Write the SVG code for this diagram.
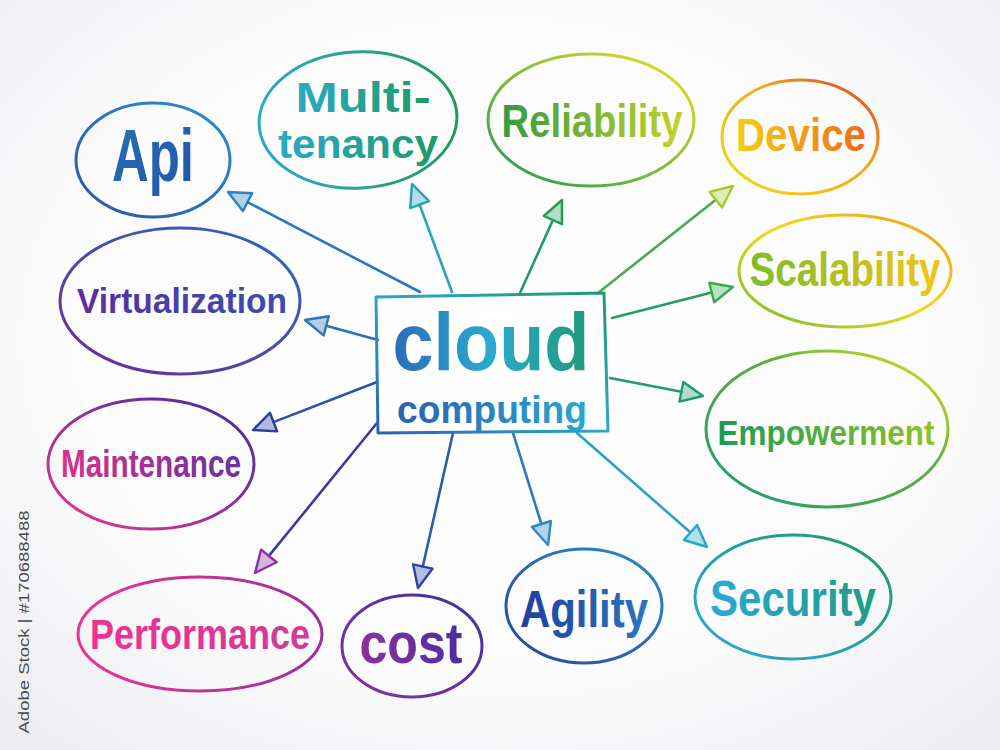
<svg xmlns="http://www.w3.org/2000/svg" width="1000" height="750" viewBox="0 0 1000 750">
<defs>
<radialGradient id="bg" cx="0.5" cy="0.45" r="0.75">
<stop offset="0" stop-color="#ffffff"/><stop offset="0.6" stop-color="#fbfbfc"/><stop offset="1" stop-color="#ececf0"/>
</radialGradient>
<linearGradient id="gBox" x1="0" y1="1" x2="1" y2="0"><stop offset="0" stop-color="#2b63b3"/><stop offset="0.5" stop-color="#2aa6cc"/><stop offset="1" stop-color="#1f9a74"/></linearGradient>
<linearGradient id="gCloud" x1="0" y1="0.5" x2="1" y2="0.5"><stop offset="0" stop-color="#2c6db8"/><stop offset="0.5" stop-color="#2aaad0"/><stop offset="1" stop-color="#1f9a78"/></linearGradient>
<linearGradient id="gComp" x1="0" y1="0.5" x2="1" y2="0.5"><stop offset="0" stop-color="#2a62b2"/><stop offset="1" stop-color="#2aa6cf"/></linearGradient>
<linearGradient id="gApi" x1="0" y1="1" x2="1" y2="0"><stop offset="0" stop-color="#2a55a8"/><stop offset="1" stop-color="#2a90cc"/></linearGradient>
<linearGradient id="tApi" x1="0" y1="0" x2="1" y2="1"><stop offset="0" stop-color="#2a70b8"/><stop offset="1" stop-color="#2055a6"/></linearGradient>
<linearGradient id="gMul" x1="0" y1="0.5" x2="1" y2="0.5"><stop offset="0" stop-color="#28aacc"/><stop offset="1" stop-color="#239a55"/></linearGradient>
<linearGradient id="tMul" x1="0" y1="0.5" x2="1" y2="0.5"><stop offset="0" stop-color="#2aaac4"/><stop offset="1" stop-color="#1f9a68"/></linearGradient>
<linearGradient id="gRel" x1="0" y1="1" x2="1" y2="0"><stop offset="0" stop-color="#1f9a55"/><stop offset="1" stop-color="#f0e020"/></linearGradient>
<linearGradient id="tRel" x1="0" y1="0.5" x2="1" y2="0.5"><stop offset="0" stop-color="#339a40"/><stop offset="1" stop-color="#c6d22a"/></linearGradient>
<linearGradient id="gDev" x1="0" y1="1" x2="1" y2="0"><stop offset="0" stop-color="#f2dc1c"/><stop offset="0.6" stop-color="#f2a818"/><stop offset="1" stop-color="#e23a1c"/></linearGradient>
<linearGradient id="tDev" x1="0" y1="0.5" x2="1" y2="0.5"><stop offset="0" stop-color="#f4d010"/><stop offset="1" stop-color="#ee6a1c"/></linearGradient>
<linearGradient id="gSca" x1="0" y1="1" x2="1" y2="0"><stop offset="0" stop-color="#72b830"/><stop offset="0.5" stop-color="#f0dc20"/><stop offset="1" stop-color="#f09a18"/></linearGradient>
<linearGradient id="tSca" x1="0" y1="0.5" x2="1" y2="0.5"><stop offset="0" stop-color="#7cbc2c"/><stop offset="1" stop-color="#f4c414"/></linearGradient>
<linearGradient id="gEmp" x1="0" y1="1" x2="1" y2="0"><stop offset="0" stop-color="#1f9a70"/><stop offset="0.6" stop-color="#5cb040"/><stop offset="1" stop-color="#e8e420"/></linearGradient>
<linearGradient id="tEmp" x1="0" y1="0.5" x2="1" y2="0.5"><stop offset="0" stop-color="#1f9a52"/><stop offset="1" stop-color="#8ec22c"/></linearGradient>
<linearGradient id="gSec" x1="0" y1="1" x2="1" y2="0"><stop offset="0" stop-color="#2aaad4"/><stop offset="1" stop-color="#1f9a68"/></linearGradient>
<linearGradient id="tSec" x1="0" y1="0.5" x2="1" y2="0.5"><stop offset="0" stop-color="#2aa8d6"/><stop offset="1" stop-color="#1f9c84"/></linearGradient>
<linearGradient id="gAgi" x1="0" y1="1" x2="1" y2="0"><stop offset="0" stop-color="#2a44a0"/><stop offset="1" stop-color="#2a8ccb"/></linearGradient>
<linearGradient id="tAgi" x1="0" y1="0.5" x2="1" y2="0.5"><stop offset="0" stop-color="#213f9e"/><stop offset="1" stop-color="#2c74bf"/></linearGradient>
<linearGradient id="gCos" x1="0" y1="1" x2="1" y2="0"><stop offset="0" stop-color="#8a30a0"/><stop offset="1" stop-color="#3a32a0"/></linearGradient>
<linearGradient id="tCos" x1="0" y1="0.5" x2="1" y2="0.5"><stop offset="0" stop-color="#8a30a0"/><stop offset="1" stop-color="#4a30a0"/></linearGradient>
<linearGradient id="gPer" x1="0" y1="0.5" x2="1" y2="0.5"><stop offset="0" stop-color="#ee3290"/><stop offset="1" stop-color="#9a30a0"/></linearGradient>
<linearGradient id="tPer" x1="0" y1="0.5" x2="1" y2="0.5"><stop offset="0" stop-color="#ee3290"/><stop offset="1" stop-color="#d03a9a"/></linearGradient>
<linearGradient id="gMai" x1="0" y1="1" x2="1" y2="0"><stop offset="0" stop-color="#ee3290"/><stop offset="1" stop-color="#3a30a0"/></linearGradient>
<linearGradient id="tMai" x1="0" y1="0.5" x2="1" y2="0.5"><stop offset="0" stop-color="#d8308c"/><stop offset="1" stop-color="#6a30a0"/></linearGradient>
<linearGradient id="gVir" x1="0" y1="1" x2="1" y2="0"><stop offset="0" stop-color="#6a2c9e"/><stop offset="1" stop-color="#2a6ab6"/></linearGradient>
<linearGradient id="tVir" x1="0" y1="0.5" x2="1" y2="0.5"><stop offset="0" stop-color="#5a2ea0"/><stop offset="1" stop-color="#3450b0"/></linearGradient>
</defs>
<style>
.shape{fill:none;stroke-width:3;stroke-linejoin:round}
.lbl{font-family:"Liberation Sans",Arial,sans-serif;font-weight:700;text-anchor:middle}
.con{fill:none;stroke-width:2.6;stroke-linecap:round}
.head{stroke-width:2.4;stroke-linejoin:round;fill-opacity:0.35}
.mark{font-family:"Liberation Sans",Arial,sans-serif;font-size:15px;fill:#4a4a4e;text-anchor:middle}
</style>
<rect x="0" y="0" width="1000" height="750" fill="url(#bg)"/>

<g id="connectors">
<line class="con" x1="420" y1="292" x2="247.5" y2="202.2" stroke="#2a78c0"/>
<polygon class="head" points="228,192 252.1,193.3 242.9,211.1" stroke="#2a80c4" fill="#2a80c4"/>
<line class="con" x1="452" y1="292" x2="419.6" y2="204.6" stroke="#26a4bc"/>
<polygon class="head" points="412,184 429,201.1 410.2,208.1" stroke="#22a4b0" fill="#22a4b0"/>
<line class="con" x1="520" y1="293" x2="552.9" y2="220.1" stroke="#1f9a78"/>
<polygon class="head" points="562,200 562,224.2 543.8,216" stroke="#229a58" fill="#229a58"/>
<line class="con" x1="598" y1="293" x2="715.8" y2="199.7" stroke="#4aa850"/>
<polygon class="head" points="733,186 722,207.5 709.6,191.9" stroke="#a8c830" fill="#a8c830"/>
<line class="con" x1="612" y1="318" x2="711.7" y2="292.5" stroke="#22a05a"/>
<polygon class="head" points="733,287 714.2,302.2 709.2,282.8" stroke="#3aa84a" fill="#3aa84a"/>
<line class="con" x1="610" y1="378" x2="681.4" y2="391.8" stroke="#1f9a78"/>
<polygon class="head" points="703,396 679.5,401.6 683.3,382" stroke="#1f9a6a" fill="#1f9a6a"/>
<line class="con" x1="577" y1="433" x2="690.5" y2="532.5" stroke="#2aa0cc"/>
<polygon class="head" points="707,547 683.9,540 697.1,525" stroke="#26a8c8" fill="#26a8c8"/>
<line class="con" x1="513" y1="433" x2="541.4" y2="524" stroke="#2a7cc2"/>
<polygon class="head" points="548,545 531.9,527 550.9,521" stroke="#2a88c8" fill="#2a88c8"/>
<line class="con" x1="453" y1="433" x2="422.8" y2="566.5" stroke="#2a5cac"/>
<polygon class="head" points="418,588 413.1,564.3 432.5,568.7" stroke="#2a46a2" fill="#2a46a2"/>
<line class="con" x1="377" y1="423" x2="268.9" y2="555.9" stroke="#3a3aa2"/>
<polygon class="head" points="255,573 261.1,549.6 276.7,562.2" stroke="#8a32a0" fill="#8a32a0"/>
<line class="con" x1="377" y1="382" x2="273.5" y2="422.1" stroke="#2a52aa"/>
<polygon class="head" points="253,430 269.9,412.8 277.1,431.4" stroke="#2a3ca0" fill="#2a3ca0"/>
<line class="con" x1="378" y1="340" x2="326.2" y2="325.8" stroke="#2a70b8"/>
<polygon class="head" points="305,320 328.8,316.2 323.6,335.4" stroke="#2a74ba" fill="#2a74ba"/>
</g>

<g id="center">
<polygon class="shape" points="376,297 604,293 608,431 378,433" stroke="url(#gBox)"/>
<text class="lbl" x="491" y="370" font-size="82" textLength="197" lengthAdjust="spacingAndGlyphs" fill="url(#gCloud)">cloud</text>
<text class="lbl" x="492" y="423" font-size="38" textLength="190" lengthAdjust="spacingAndGlyphs" fill="url(#gComp)">computing</text>
</g>

<g id="api">
<ellipse class="shape" cx="153" cy="160" rx="77" ry="57" stroke="url(#gApi)"/>
<text class="lbl" x="153" y="181" font-size="74" textLength="82" lengthAdjust="spacingAndGlyphs" fill="url(#tApi)">Api</text>
</g>

<g id="multitenancy">
<ellipse class="shape" cx="358" cy="120" rx="99" ry="68" stroke="url(#gMul)" transform="rotate(-3 358 120)"/>
<text class="lbl" x="363" y="112" font-size="42" textLength="135" lengthAdjust="spacingAndGlyphs" fill="url(#tMul)">Multi-</text>
<text class="lbl" x="358" y="158" font-size="40" textLength="160" lengthAdjust="spacingAndGlyphs" fill="url(#tMul)">tenancy</text>
</g>

<g id="reliability">
<ellipse class="shape" cx="591" cy="120" rx="103" ry="66" stroke="url(#gRel)"/>
<text class="lbl" x="592" y="137" font-size="46" textLength="181" lengthAdjust="spacingAndGlyphs" fill="url(#tRel)">Reliability</text>
</g>

<g id="device">
<ellipse class="shape" cx="800" cy="137" rx="78" ry="57" stroke="url(#gDev)"/>
<text class="lbl" x="801" y="151" font-size="46" textLength="130" lengthAdjust="spacingAndGlyphs" fill="url(#tDev)">Device</text>
</g>

<g id="scalability">
<ellipse class="shape" cx="845" cy="271" rx="106" ry="56" stroke="url(#gSca)"/>
<text class="lbl" x="845" y="286" font-size="48" textLength="191" lengthAdjust="spacingAndGlyphs" fill="url(#tSca)">Scalability</text>
</g>

<g id="empowerment">
<ellipse class="shape" cx="827" cy="429" rx="121" ry="78" stroke="url(#gEmp)"/>
<text class="lbl" x="826" y="445" font-size="35" textLength="217" lengthAdjust="spacingAndGlyphs" fill="url(#tEmp)">Empowerment</text>
</g>

<g id="security">
<ellipse class="shape" cx="793" cy="597" rx="98" ry="62" stroke="url(#gSec)"/>
<text class="lbl" x="793" y="616" font-size="50" textLength="166" lengthAdjust="spacingAndGlyphs" fill="url(#tSec)">Security</text>
</g>

<g id="agility">
<ellipse class="shape" cx="584" cy="606" rx="78" ry="57" stroke="url(#gAgi)"/>
<text class="lbl" x="584" y="627" font-size="52" textLength="128" lengthAdjust="spacingAndGlyphs" fill="url(#tAgi)">Agility</text>
</g>

<g id="cost">
<ellipse class="shape" cx="412" cy="646" rx="70" ry="51" stroke="url(#gCos)"/>
<text class="lbl" x="411" y="663" font-size="58" textLength="103" lengthAdjust="spacingAndGlyphs" fill="url(#tCos)">cost</text>
</g>

<g id="performance">
<ellipse class="shape" cx="200" cy="634" rx="122" ry="57" stroke="url(#gPer)"/>
<text class="lbl" x="200" y="649" font-size="42" textLength="220" lengthAdjust="spacingAndGlyphs" fill="url(#tPer)">Performance</text>
</g>

<g id="maintenance">
<ellipse class="shape" cx="151" cy="464" rx="103" ry="65" stroke="url(#gMai)"/>
<text class="lbl" x="151" y="477" font-size="38" textLength="180" lengthAdjust="spacingAndGlyphs" fill="url(#tMai)">Maintenance</text>
</g>

<g id="virtualization">
<ellipse class="shape" cx="180" cy="301" rx="120" ry="73" stroke="url(#gVir)"/>
<text class="lbl" x="182" y="313" font-size="35" textLength="210" lengthAdjust="spacingAndGlyphs" fill="url(#tVir)">Virtualization</text>
</g>

<text class="mark" transform="translate(29 622) rotate(-90)" textLength="223" lengthAdjust="spacingAndGlyphs">Adobe Stock | #170688488</text>
</svg>
